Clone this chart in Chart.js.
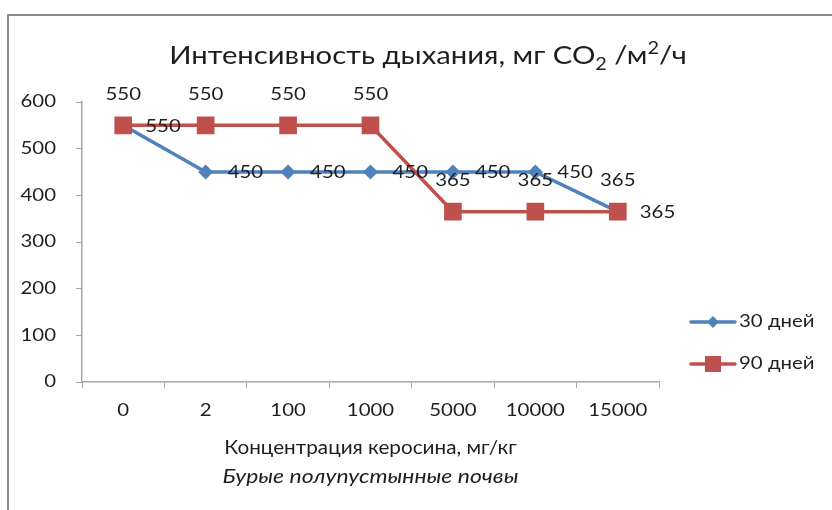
<!DOCTYPE html>
<html lang="ru">
<head>
<meta charset="utf-8">
<script src="https://cdn.jsdelivr.net/npm/chart.js@4"></script>
<style>
  html, body { margin: 0; padding: 0; background: #fff; }
  #wrap { position: relative; width: 832px; height: 510px; }
  #frame { position: absolute; left: 7px; top: 14px; right: 0; bottom: 0;
           border-left: 2px solid #8c8c8c; border-top: 2px solid #8c8c8c; }
  canvas { position: absolute; left: 0; top: 0; }
</style>
</head>
<body>
<div id="wrap">
  <div id="frame"></div>
  <canvas id="grafico" width="832" height="510"></canvas>
</div>
<script>
// datos
const categories = ["0", "2", "100", "1000", "5000", "10000", "15000"];
const days30 = [550, 450, 450, 450, 450, 450, 365];
const days90 = [550, 550, 550, 550, 365, 365, 365];
const seriesNames = ["30 дней", "90 дней"];
const yTicks = [0, 100, 200, 300, 400, 500, 600];

const FONT = "Lato, 'Open Sans', sans-serif";
const BLUE = "#4f81bd";
const RED = "#c0504d";
const TXT = "#1e1e1e";
const SMALL = 17;   // ticks, etiquetas, leyenda
const SX = 1.2;     // el original tiene el texto algo ensanchado

// texto con ensanche horizontal
function drawText(ctx, text, x, y, { size = SMALL, italic = false, align = "left", sx = SX, baseline = "middle" } = {}){
  ctx.save();
  ctx.font = `${italic ? "italic " : ""}${size}px ${FONT}`;
  ctx.textBaseline = baseline;
  ctx.textAlign = "left";
  const w = ctx.measureText(text).width * sx;
  const left = align === "center" ? x - w / 2 : align === "right" ? x - w : x;
  ctx.translate(left, y);
  ctx.scale(sx, 1);
  ctx.fillStyle = TXT;
  ctx.fillText(text, 0, 0);
  ctx.restore();
  return w;
}

// etiquetas de ticks dibujadas a mano sobre las escalas de Chart.js
const tickLabels = {
  id: "tickLabels",
  afterDraw(chart){
    const ctx = chart.ctx;
    const xs = chart.scales.x, ys = chart.scales.y;
    xs.ticks.forEach((t, i) => {
      drawText(ctx, categories[i], xs.getPixelForTick(i), 411, { align: "center" });
    });
    ys.ticks.forEach(t => {
      drawText(ctx, String(t.value), 56, ys.getPixelForValue(t.value), { align: "right" });
    });
  }
};

// etiquetas de valores: 30 dias a la derecha, 90 dias arriba
const valueLabels = {
  id: "valueLabels",
  afterDatasetsDraw(chart){
    const ctx = chart.ctx;
    chart.data.datasets.forEach((ds, i) => {
      const meta = chart.getDatasetMeta(i);
      meta.data.forEach((pt, j) => {
        const v = String(ds.data[j]);
        if (ds.labelPos === "right"){
          drawText(ctx, v, pt.x + 22, pt.y + 1);
        } else {
          drawText(ctx, v, pt.x, pt.y - 31, { align: "center" });
        }
      });
    });
  }
};

// titulo, titulo del eje X y leyenda
const decorations = {
  id: "decorations",
  afterDraw(chart){
    const ctx = chart.ctx;
    const area = chart.chartArea;

    // titulo con sub/superindice
    const tsx = 1.17;
    const parts = [
      { t: "Интенсивность дыхания, мг CO", size: 25, dy: 0 },
      { t: "2", size: 17, dy: 6 },
      { t: " /м", size: 25, dy: 0 },
      { t: "2", size: 17, dy: -10 },
      { t: "/ч", size: 25, dy: 0 }
    ];
    let total = 0;
    ctx.save();
    parts.forEach(p => { ctx.font = `${p.size}px ${FONT}`; p.w = ctx.measureText(p.t).width * tsx; total += p.w; });
    ctx.restore();
    let x = 428 - total / 2;
    parts.forEach(p => {
      drawText(ctx, p.t, x, 64 + p.dy, { size: p.size, sx: tsx, baseline: "alphabetic" });
      x += p.w;
    });

    // titulo del eje X
    const cx = (area.left + area.right) / 2;
    drawText(ctx, "Концентрация керосина, мг/кг", cx, 448, { size: 18.5, sx: 1.12, align: "center" });
    drawText(ctx, "Бурые полупустынные почвы", cx, 477, { size: 18.5, sx: 1.24, italic: true, align: "center" });

    // leyenda
    const items = [
      { name: seriesNames[0], color: BLUE, style: "diamond", y: 322 },
      { name: seriesNames[1], color: RED, style: "square", y: 364 }
    ];
    items.forEach(it => {
      ctx.save();
      ctx.strokeStyle = it.color;
      ctx.fillStyle = it.color;
      ctx.lineWidth = 3.5;
      ctx.lineCap = "round";
      ctx.beginPath();
      ctx.moveTo(691, it.y);
      ctx.lineTo(735, it.y);
      ctx.stroke();
      ctx.beginPath();
      if (it.style === "diamond"){
        ctx.moveTo(713, it.y - 6); ctx.lineTo(719, it.y);
        ctx.lineTo(713, it.y + 6); ctx.lineTo(707, it.y);
        ctx.closePath();
      } else {
        ctx.rect(705, it.y - 8, 16, 16);
      }
      ctx.fill();
      ctx.restore();
      drawText(ctx, it.name, 739, it.y);
    });
  }
};

const ctx = document.getElementById("grafico").getContext("2d");
new Chart(ctx, {
  type: "line",
  data: {
    labels: categories,
    datasets: [
      {
        label: seriesNames[0], data: days30, labelPos: "right", order: 1,
        borderColor: BLUE, backgroundColor: BLUE, borderWidth: 3.5,
        pointStyle: "rectRot", pointRadius: 7.5, pointBorderWidth: 0,
        pointBackgroundColor: BLUE
      },
      {
        label: seriesNames[1], data: days90, labelPos: "above", order: 0,
        borderColor: RED, backgroundColor: RED, borderWidth: 3.5,
        pointStyle: "rect", pointRadius: 12.5, pointBorderWidth: 0,
        pointBackgroundColor: RED
      }
    ]
  },
  options: {
    responsive: false,
    animation: false,
    events: [],
    layout: { padding: { left: 0, right: 173, top: 102, bottom: 0 } },
    plugins: { legend: { display: false }, title: { display: false }, tooltip: { enabled: false } },
    scales: {
      x: {
        offset: true,
        grid: { display: true, offset: true, drawOnChartArea: false, drawTicks: true,
                tickLength: 6, color: "#a6a6a6", lineWidth: 1 },
        border: { color: "#a6a6a6", width: 1.5 },
        ticks: { color: "rgba(0,0,0,0)", font: { family: FONT, size: 16 }, padding: 12, maxRotation: 0, autoSkip: false },
        afterFit(scale){ scale.height = 128; }
      },
      y: {
        min: 0, max: 600,
        afterBuildTicks(scale){ scale.ticks = yTicks.map(v => ({ value: v })); },
        grid: { display: true, drawOnChartArea: false, drawTicks: true,
                tickLength: 6, color: "#a6a6a6", lineWidth: 1 },
        border: { color: "#a6a6a6", width: 1.5 },
        ticks: { color: "rgba(0,0,0,0)", font: { family: FONT, size: 16 }, padding: 20 },
        afterFit(scale){ scale.width = 82; }
      }
    }
  },
  plugins: [valueLabels, tickLabels, decorations]
});
</script>
</body>
</html>
